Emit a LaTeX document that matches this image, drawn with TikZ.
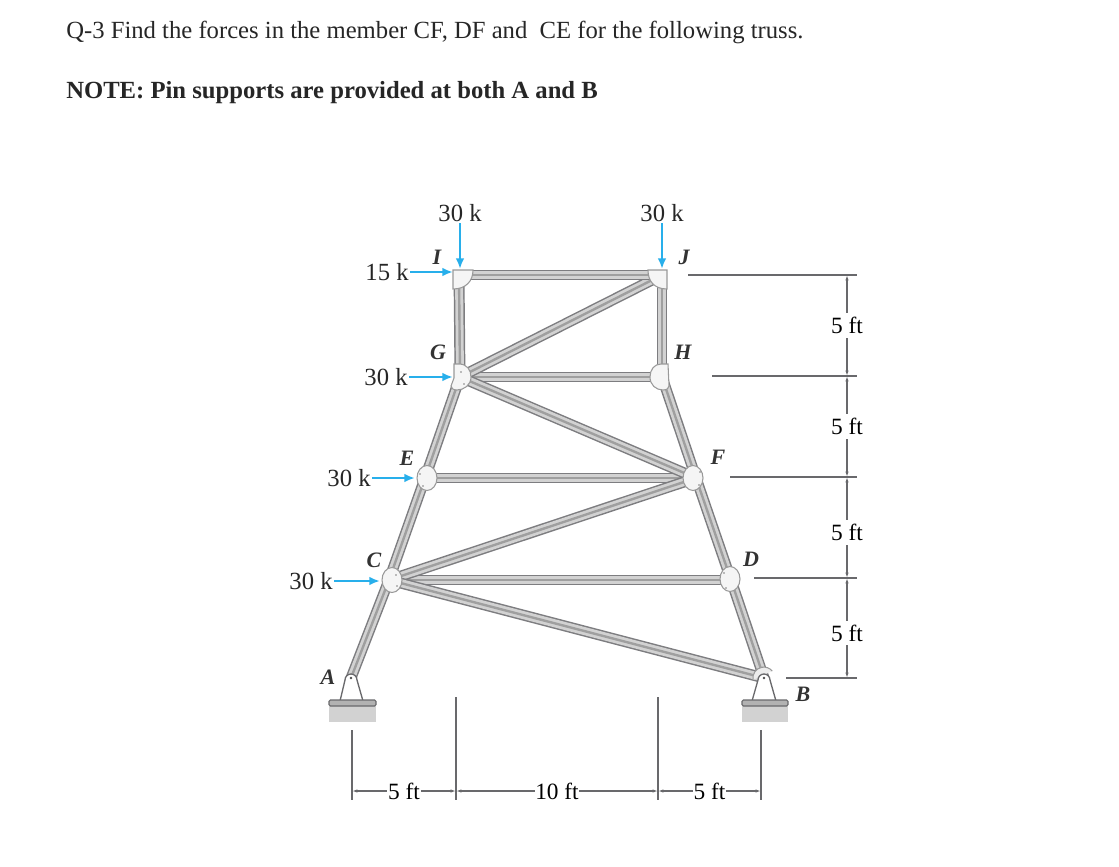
\documentclass[tikz,border=0pt]{standalone}
\usepackage{fontspec}
\setmainfont{Liberation Serif}
\usepackage{xcolor}
\usetikzlibrary{positioning,calc}
\usetikzlibrary{arrows.meta}
\definecolor{forceblue}{RGB}{40,175,235}
\definecolor{steel}{RGB}{125,125,128}
\definecolor{dimgray}{RGB}{105,105,108}
\tikzset{
  member/.style={line width=8.2pt, draw=steel,
    postaction={draw=gray!35, line width=6pt},
    postaction={draw=gray!75, line width=1.8pt}},
  gusset/.style={draw=gray!80, fill=gray!8, line width=0.8pt},
  support/.style={draw=dimgray, fill=white, line width=1pt},
  force/.style={draw=forceblue, line width=2pt, -{Latex[length=8pt,width=6.5pt]}},
  dimline/.style={draw=dimgray, line width=1.1pt},
  dimarrow/.style={dimline, {Latex[length=4pt,width=2.5pt]}-{Latex[length=4pt,width=2.5pt]}},
  dimlabel/.style={fill=white, inner xsep=0.5pt, inner ysep=3pt, font=\fontsize{17.5}{18}\selectfont},
  forcelabel/.style={inner sep=1pt, text=black!85, font=\fontsize{18.5}{18}\selectfont},
  jointlabel/.style={inner sep=0pt, text=black!80, font=\fontsize{16.5}{18}\selectfont\itshape\bfseries},
  question/.style={anchor=west, inner sep=0pt, text=black!85, font=\fontsize{18.5}{20}\selectfont}
}

\begin{document}
\begin{tikzpicture}[x=0.75pt, y=-0.75pt]
    \useasboundingbox (0,0) rectangle (1119,866);

    % joints
    \coordinate (I) at (459,275);
    \coordinate (J) at (662,275);
    \coordinate (G) at (460,377);
    \coordinate (H) at (662,377);
    \coordinate (E) at (425,478);
    \coordinate (F) at (696,478);
    \coordinate (C) at (389,580);
    \coordinate (D) at (731,580);
    \coordinate (A) at (351,678);
    \coordinate (B) at (764,678);

    % question text
    \node[question] (qtext) at (66,32) {Q-3 Find the forces in the member CF, DF and \ CE for the following truss.};
    \node[question, font=\fontsize{18.5}{20}\selectfont\bfseries] (qnote) at (66,93) {NOTE: Pin supports are provided at both A and B};

    % ground blocks
    \fill[gray!35] (329,704) rectangle (376,722);
    \fill[gray!35] (742,704) rectangle (788,722);

    % members
    \draw[member] (G) -- (H);
    \draw[member] (E) -- (F);
    \draw[member] (C) -- (D);
    \draw[member] (G) -- (J);
    \draw[member] (G) -- (F);
    \draw[member] (C) -- (F);
    \draw[member] (C) -- (B);
    \draw[member] (I) -- (J);
    \draw[member] (I) -- (G);
    \draw[member] (J) -- (H);
    \draw[member] (A) -- (C);
    \draw[member] (C) -- (E);
    \draw[member] (E) -- (G);
    \draw[member] (B) -- (D);
    \draw[member] (D) -- (F);
    \draw[member] (F) -- (H);

    % gusset plates
    \draw[gusset] (453,270) -- (473,270) .. controls (473,281) and (466,289) .. (453,289) -- cycle;
    \draw[gusset] (667,270) -- (648,270) .. controls (648,281) and (654,289) .. (667,289) -- cycle;
    \draw[gusset] (454,364) -- (459,364) .. controls (467,364) and (471,370) .. (471,377)
                  .. controls (471,385) and (464,390) .. (457,390) .. controls (453,390) and (451,388) .. (451,386) -- (454,378) -- cycle;
    \draw[gusset] (668,364) -- (661,364) .. controls (654,364) and (650,370) .. (650,377)
                  .. controls (650,385) and (656,390) .. (663,390) .. controls (667,390) and (669,388) .. (669,386) -- cycle;
    \draw[gusset] (427,478) ellipse (10 and 12.5);
    \draw[gusset] (693,478) ellipse (10 and 12.5);
    \draw[gusset] (392,580) ellipse (10 and 12.5);
    \draw[gusset] (730,579) ellipse (10 and 12.5);

    % rivets
    \foreach \px/\py in {461/372, 464/384, 420/474, 423/486, 700/472, 699/485, 396/575, 397/586, 724/573, 726/588}
        \fill[gray] (\px,\py) circle (0.9);

    % supports
    \draw[gusset, fill=gray!15] (753,680) arc (170:320:11);
    \draw[support] (340,701) -- (345,680) arc (180:360:6) -- (363,701);
    \draw[support] (752,701) -- (758,680) arc (180:360:6) -- (776,701);
    \fill[black!70] (A) circle (1.4);
    \fill[black!70] (B) circle (1.4);
    \draw[draw=dimgray, fill=gray!60, rounded corners=1pt, line width=0.8pt] (329,700) rectangle (376,706);
    \draw[draw=dimgray, fill=gray!60, rounded corners=1pt, line width=0.8pt] (742,700) rectangle (788,706);

    % force tips
    \coordinate (tI) at (453,272);
    \coordinate (tG) at (453,377);
    \coordinate (tE) at (415,478);
    \coordinate (tC) at (380,581);
    \coordinate (tIv) at (460,269);
    \coordinate (tJv) at (662,269);

    % loads
    \node[forcelabel] (l15) at (387,272) {15 k};
    \node[forcelabel] (lG) at (386,377) {30 k};
    \node[forcelabel] (lE) at (349,478) {30 k};
    \node[forcelabel] (lC) at (311,581) {30 k};
    \node[forcelabel] (lI) at (460,213) {30 k};
    \node[forcelabel] (lJ) at (662,213) {30 k};
    \draw[force] (l15) -- (tI);
    \draw[force] (lG) -- (tG);
    \draw[force] (lE) -- (tE);
    \draw[force] (lC) -- (tC);
    \draw[force] (lI) -- (tIv);
    \draw[force] (lJ) -- (tJv);

    % joint labels
    \node[jointlabel] (nI) at (437,257) {I};
    \node[jointlabel] (nJ) at (684,257) {J};
    \node[jointlabel] (nG) at (438,352) {G};
    \node[jointlabel] (nH) at (683,352) {H};
    \node[jointlabel] (nE) at (407,458) {E};
    \node[jointlabel] (nF) at (718,457) {F};
    \node[jointlabel] (nC) at (374,560) {C};
    \node[jointlabel] (nD) at (751,559) {D};
    \node[jointlabel] (nA) at (328,677) {A};
    \node[jointlabel] (nB) at (803,694) {B};

    % dimensions right
    \coordinate (r0) at (847,275);
    \coordinate (r1) at (847,376);
    \coordinate (r2) at (847,477);
    \coordinate (r3) at (847,578);
    \coordinate (r4) at (847,678);
    \draw[dimline] (688,275) -- (857,275);
    \draw[dimline] (712,376) -- (857,376);
    \draw[dimline] (730,477) -- (857,477);
    \draw[dimline] (754,578) -- (857,578);
    \draw[dimline] (786,678) -- (857,678);
    \draw[dimarrow] (r0) -- node[dimlabel, pos=0.5] (v1) {5 ft} (r1);
    \draw[dimarrow] (r1) -- node[dimlabel, pos=0.5] (v2) {5 ft} (r2);
    \draw[dimarrow] (r2) -- node[dimlabel, pos=0.55] (v3) {5 ft} (r3);
    \draw[dimarrow] (r3) -- node[dimlabel, pos=0.55] (v4) {5 ft} (r4);

    % dimensions bottom
    \coordinate (b0) at (352,791);
    \coordinate (b1) at (456,791);
    \coordinate (b2) at (658,791);
    \coordinate (b3) at (761,791);
    \draw[dimline] (352,730) -- (352,800);
    \draw[dimline] (456,697) -- (456,800);
    \draw[dimline] (658,697) -- (658,800);
    \draw[dimline] (761,730) -- (761,800);
    \draw[dimarrow] (b0) -- node[dimlabel, pos=0.5] (h1) {5 ft} (b1);
    \draw[dimarrow] (b1) -- node[dimlabel, pos=0.5] (h2) {10 ft} (b2);
    \draw[dimarrow] (b2) -- node[dimlabel, pos=0.5] (h3) {5 ft} (b3);
\end{tikzpicture}
\end{document}
